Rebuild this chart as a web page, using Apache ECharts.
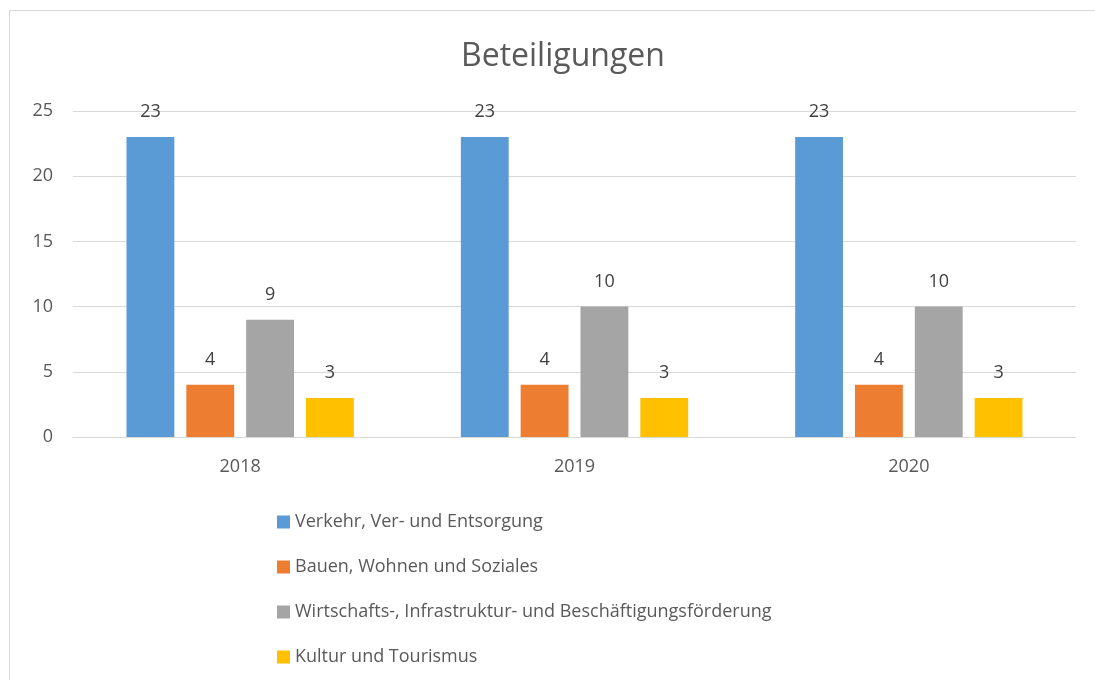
<!DOCTYPE html>
<html>
<head>
<meta charset="utf-8">
<script src="https://cdn.jsdelivr.net/npm/echarts@6/dist/echarts.min.js"></script>
<style>
  html, body { margin: 0; padding: 0; background: #fff; }
  #frame { position: absolute; left: 9px; top: 10px; width: 1100px; height: 700px; border: 1px solid #d9d9d9; box-sizing: border-box; }
  #chart { position: absolute; left: 0; top: 0; width: 1095px; height: 680px; }
</style>
</head>
<body>
<div id="frame"></div>
<div id="chart"></div>
<script>
const years = ['2018', '2019', '2020']
const seriesNames = [
  'Verkehr, Ver- und Entsorgung',
  'Bauen, Wohnen und Soziales',
  'Wirtschafts-, Infrastruktur- und Beschäftigungsförderung',
  'Kultur und Tourismus'
]
const verkehr = [23, 23, 23]
const bauen = [4, 4, 4]
const wirtschaft = [9, 10, 10]
const kultur = [3, 3, 3]
const colors = ['#5b9bd5', '#ed7d31', '#a5a5a5', '#ffc000']

const font = 'Open Sans'
const chart = echarts.init(document.getElementById('chart'))

const values = [verkehr, bauen, wirtschaft, kultur]
const series = seriesNames.map((name, i) => ({
  name: name,
  type: 'bar',
  data: values[i],
  barGap: '25%',
  barCategoryGap: '32%',
  itemStyle: { color: colors[i] },
  label: {
    show: true,
    position: 'top',
    distance: 16,
    color: '#404040',
    fontSize: 18,
    fontFamily: font
  }
}))

chart.setOption({
  animation: false,
  title: {
    text: 'Beteiligungen',
    left: 456,
    top: 36,
    textStyle: { fontSize: 32, fontWeight: 'normal', color: '#595959', fontFamily: font }
  },
  legend: {
    orient: 'vertical',
    left: 272,
    top: 508,
    itemWidth: 13,
    itemHeight: 13,
    itemGap: 27,
    icon: 'rect',
    textStyle: { fontSize: 18, color: '#595959', fontFamily: font }
  },
  grid: { left: 73, right: 19, top: 111, bottom: 243 },
  xAxis: {
    type: 'category',
    data: years,
    axisTick: { show: false },
    axisLine: { lineStyle: { color: '#d9d9d9', width: 1 } },
    axisLabel: { fontSize: 18, color: '#595959', fontFamily: font, margin: 21 }
  },
  yAxis: {
    type: 'value',
    min: 0,
    max: 25,
    interval: 5,
    axisLine: { show: false },
    axisTick: { show: false },
    splitLine: { lineStyle: { color: '#d9d9d9', width: 1 } },
    axisLabel: { fontSize: 18, color: '#595959', fontFamily: font, margin: 20 }
  },
  series: series
})
</script>
</body>
</html>
